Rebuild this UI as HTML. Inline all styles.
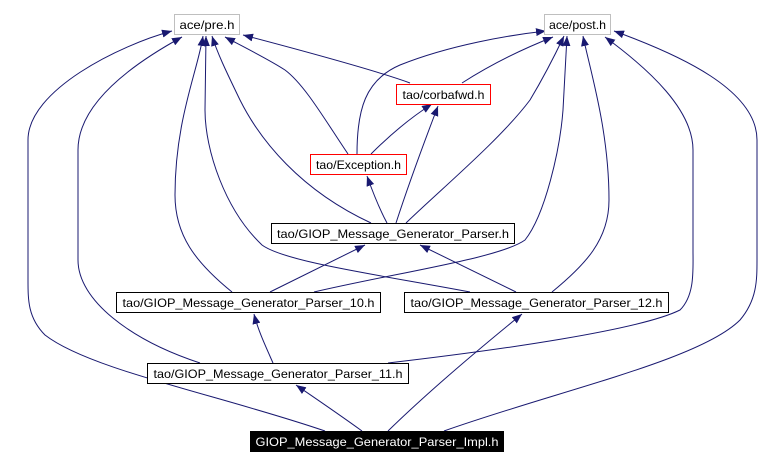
<!DOCTYPE html>
<html><head><meta charset="utf-8"><style>
html,body{margin:0;padding:0;background:#fff;}
svg{display:block;}
text{font-family:"Liberation Sans",sans-serif;font-size:12px;}
</style></head><body>
<svg width="782" height="465" viewBox="0 0 782 465" xmlns="http://www.w3.org/2000/svg">
<defs>
<marker id="a" markerWidth="10" markerHeight="8" refX="10" refY="4" orient="auto" markerUnits="userSpaceOnUse">
<path d="M0,0 L10,4 L0,8 Z" fill="#191970"/>
</marker>
</defs>
<g fill="none" stroke="#191970" stroke-width="1" marker-end="url(#a)">
<path d="M325,431 C220,395 90,370 45,335 C28,318 28,300 28,280 L28,140 C28,90 120,45 172,31"/>
<path d="M200,363 C130,340 78,300 78,260 L78,150 C78,100 140,60 182,37"/>
<path d="M232,292 C195,262 175,235 175,195 C175,120 198,70 203,36"/>
<path d="M470,292 C380,275 285,262 262,245 C225,210 205,150 205,110 L206,36"/>
<path d="M371,223 C300,190 260,140 240,100 C228,75 218,55 212,36"/>
<path d="M348,154 C325,120 305,85 285,70 C270,60 240,45 225,37"/>
<path d="M410,83 C380,72 300,50 243,35"/>
<path d="M444,431 C560,390 700,360 740,320 C757,300 757,280 757,260 L757,140 C757,90 680,55 614,31"/>
<path d="M388,363 C500,350 640,330 680,310 C695,295 693,270 693,250 L693,150 C693,110 650,70 605,37"/>
<path d="M552,292 C585,265 609,240 609,200 C609,130 590,70 583,36"/>
<path d="M314,292 C400,272 500,258 525,240 C545,215 560,150 563,110 L567,36"/>
<path d="M406,223 C440,190 500,140 530,100 C545,75 555,55 564,36"/>
<path d="M462,83 C490,65 520,50 553,37"/>
<path d="M357,154 C357,110 365,80 400,65 C450,45 510,35 546,31"/>
<path d="M371,154 C390,135 410,118 432,104"/>
<path d="M396,223 C410,180 425,140 438,106"/>
<path d="M387,223 C380,210 372,190 367,176"/>
<path d="M270,292 L365,245"/>
<path d="M516,292 L420,245"/>
<path d="M273,363 C265,345 258,330 254,314"/>
<path d="M362,431 C340,415 315,398 296,385"/>
<path d="M388,431 C430,390 490,340 522,314"/>
</g>
<g stroke-width="1">
<rect x="174.5" y="14.5" width="65" height="20" fill="#fff" stroke="#bfbfbf"/>
<rect x="544.5" y="14.5" width="66" height="20" fill="#fff" stroke="#bfbfbf"/>
<rect x="396.5" y="84.5" width="94" height="20" fill="#fff" stroke="#ff0000"/>
<rect x="310.5" y="154.5" width="96" height="20" fill="#fff" stroke="#ff0000"/>
<rect x="271.5" y="223.5" width="243" height="20" fill="#fff" stroke="#000"/>
<rect x="116.5" y="292.5" width="264" height="20" fill="#fff" stroke="#000"/>
<rect x="404.5" y="292.5" width="264" height="20" fill="#fff" stroke="#000"/>
<rect x="147.5" y="363.5" width="261" height="20" fill="#fff" stroke="#000"/>
<rect x="250" y="431" width="254" height="21" fill="#000"/>
</g>
<g fill="#000" text-anchor="middle">
<text x="207" y="29" textLength="55" lengthAdjust="spacingAndGlyphs">ace/pre.h</text>
<text x="577.5" y="29" textLength="57" lengthAdjust="spacingAndGlyphs">ace/post.h</text>
<text x="443.5" y="99" textLength="82" lengthAdjust="spacingAndGlyphs">tao/corbafwd.h</text>
<text x="358.5" y="169" textLength="85" lengthAdjust="spacingAndGlyphs">tao/Exception.h</text>
<text x="393" y="238" textLength="232" lengthAdjust="spacingAndGlyphs">tao/GIOP_Message_Generator_Parser.h</text>
<text x="248.5" y="307" textLength="252" lengthAdjust="spacingAndGlyphs">tao/GIOP_Message_Generator_Parser_10.h</text>
<text x="536.5" y="307" textLength="252" lengthAdjust="spacingAndGlyphs">tao/GIOP_Message_Generator_Parser_12.h</text>
<text x="278" y="378" textLength="249" lengthAdjust="spacingAndGlyphs">tao/GIOP_Message_Generator_Parser_11.h</text>
<text x="377" y="446" fill="#fff" textLength="243" lengthAdjust="spacingAndGlyphs">GIOP_Message_Generator_Parser_Impl.h</text>
</g>
</svg>
</body></html>
